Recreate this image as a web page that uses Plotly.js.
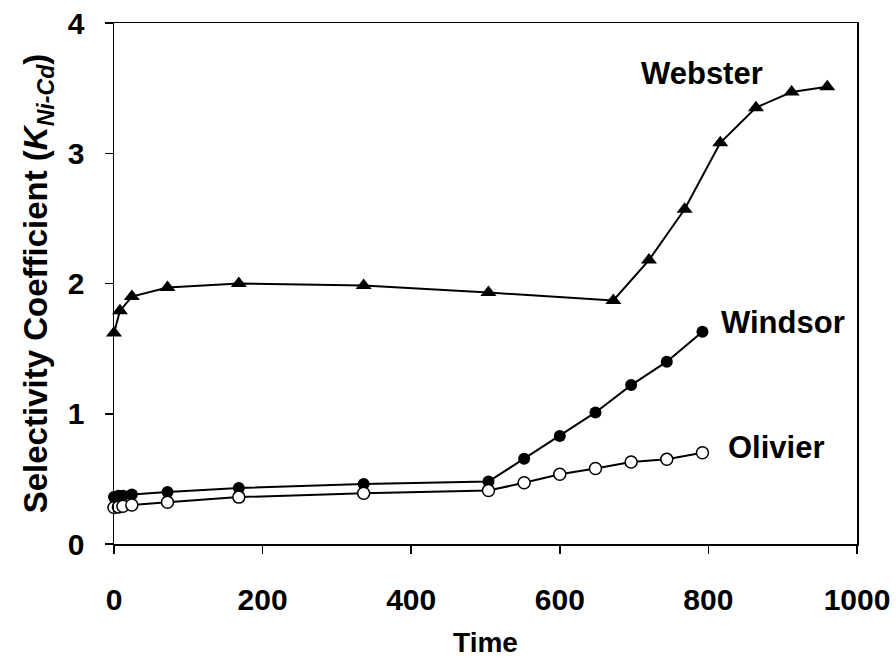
<!DOCTYPE html>
<html>
<head>
<meta charset="utf-8">
<script src="https://cdn.plot.ly/plotly-3.0.1.min.js"></script>
<style>
  html, body { margin: 0; padding: 0; background: #fff; }
  #chart { width: 896px; height: 658px; }
</style>
</head>
<body>
<div id="chart"></div>
<script>
// Selectivity coefficient over time for three sites
const websterTime = [0, 8, 24, 72, 168, 336, 504, 672, 720, 768, 816, 864, 912, 960];
const websterK    = [1.62, 1.79, 1.90, 1.97, 2.00, 1.985, 1.93, 1.87, 2.18, 2.57, 3.08, 3.35, 3.47, 3.51];

const windsorTime = [0, 6, 12, 24, 72, 168, 336, 504, 552, 600, 648, 696, 744, 792];
const windsorK    = [0.36, 0.37, 0.37, 0.38, 0.40, 0.43, 0.46, 0.48, 0.655, 0.83, 1.01, 1.22, 1.40, 1.63];

const olivierTime = [0, 6, 12, 24, 72, 168, 336, 504, 552, 600, 648, 696, 744, 792];
const olivierK    = [0.28, 0.285, 0.29, 0.30, 0.32, 0.36, 0.39, 0.41, 0.47, 0.535, 0.58, 0.63, 0.65, 0.70];

const seriesNames = ['Webster', 'Windsor', 'Olivier'];
const xTicks = [0, 200, 400, 600, 800, 1000];
const yTicks = [0, 1, 2, 3, 4];

const FONT = 'Liberation Sans, Arial, sans-serif';

const traces = [
  {
    x: websterTime, y: websterK, name: seriesNames[0], mode: 'lines+markers', cliponaxis: false,
    line: { color: '#000', width: 2 },
    marker: { symbol: 'triangle-up', size: 14, color: '#000' }
  },
  {
    x: windsorTime, y: windsorK, name: seriesNames[1], mode: 'lines+markers', cliponaxis: false,
    line: { color: '#000', width: 2 },
    marker: { symbol: 'circle', size: 12, color: '#000' }
  },
  {
    x: olivierTime, y: olivierK, name: seriesNames[2], mode: 'lines+markers', cliponaxis: false,
    line: { color: '#000', width: 2 },
    marker: { symbol: 'circle', size: 12, color: '#fff', line: { color: '#000', width: 1.5 } }
  }
];

// series labels placed beside the end of each curve
const labelPos = [
  { x: 791, y: 3.61 },
  { x: 900, y: 1.70 },
  { x: 892, y: 0.742 }
];

const annotations = seriesNames.map((name, i) => ({
  x: labelPos[i].x, y: labelPos[i].y, xref: 'x', yref: 'y',
  text: name, showarrow: false, xanchor: 'center', yanchor: 'middle',
  font: { family: FONT, size: 31, color: '#000', weight: 700 }
}));

const axisCommon = {
  showgrid: false, zeroline: false, showline: true, linecolor: '#000', linewidth: 1.5,
  mirror: true, ticks: 'outside', ticklen: 8, tickwidth: 1.5, tickcolor: '#000',
  tickfont: { family: FONT, size: 30, color: '#000', weight: 700 }
};

const layout = {
  width: 896, height: 658,
  margin: { l: 114, r: 39, t: 23, b: 114 },
  paper_bgcolor: '#fff', plot_bgcolor: '#fff',
  showlegend: false,
  xaxis: Object.assign({}, axisCommon, {
    range: [0, 1000], tickvals: xTicks, ticktext: xTicks.map(String),
    ticklabelstandoff: 20,
    title: { text: 'Time', standoff: 22, font: { family: FONT, size: 28, color: '#000', weight: 700 } }
  }),
  yaxis: Object.assign({}, axisCommon, {
    range: [0, 4], tickvals: yTicks, ticktext: yTicks.map(String),
    ticklabelstandoff: 14,
    title: { text: 'Selectivity Coefficient (<i>K<sub>Ni-Cd</sub></i>)', standoff: 10,
             font: { family: FONT, size: 33, color: '#000', weight: 700 } }
  }),
  annotations: annotations
};

Plotly.newPlot('chart', traces, layout, { displayModeBar: false, staticPlot: true });
</script>
</body>
</html>
